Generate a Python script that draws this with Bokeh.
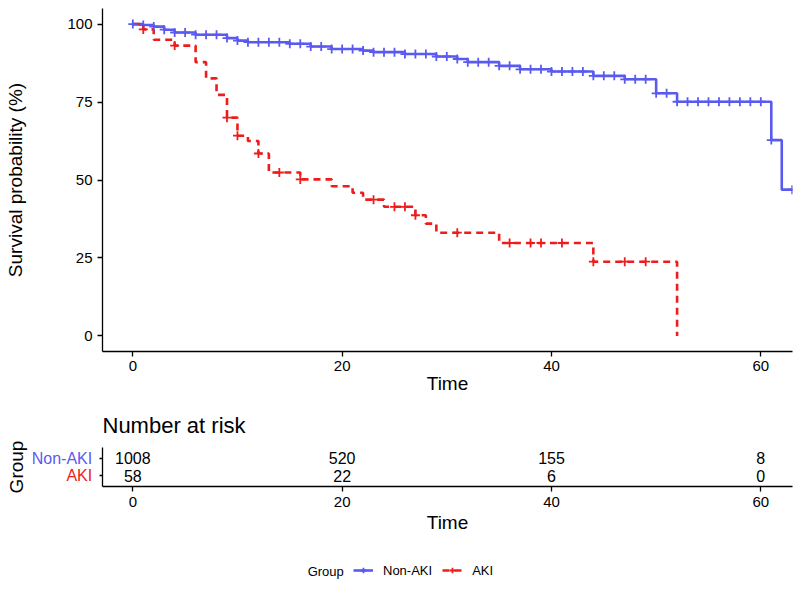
import numpy as np
from bokeh.plotting import figure
from bokeh.models import Range1d, FixedTicker, Label, Legend, LegendItem, ColumnDataSource
from bokeh.layouts import column, row
from bokeh.embed import file_html
from bokeh.resources import INLINE
from bokeh.core.properties import value

FONT = "Liberation Sans"
BLUE = "#5A5AF0"
RED = "#EE1C1C"

# ---------------- data ----------------
groups = ["Non-AKI", "AKI"]
group_colors = [BLUE, RED]

non_aki_time = [0, 1, 2, 3, 4, 6, 9, 10, 11, 15, 17, 19, 22, 23, 26, 29, 31, 32, 35,
                37, 40, 44, 47, 50, 52, 61, 62, 64]
non_aki_surv = [100, 99.7, 99.2, 98.2, 97.3, 96.6, 95.5, 94.7, 94.2, 93.7, 92.8, 92.0,
                91.5, 91.0, 90.4, 89.6, 88.8, 87.8, 86.6, 85.5, 84.8, 83.4, 82.3, 77.8,
                75.1, 62.8, 46.9, 46.9]
non_aki_censor = [0, 1, 2, 3, 4, 5, 6, 7, 8, 9, 10, 11, 12, 13, 14, 15, 16, 17, 18, 19,
                  20, 21, 22, 23, 24, 25, 26, 27, 28, 29, 30, 31, 32, 33, 34, 35, 36, 37,
                  38, 39, 40, 41, 42, 43, 44, 45, 46, 47, 48, 49, 50, 51, 52, 53, 54, 55,
                  56, 57, 58, 59, 60, 61, 63]

aki_time = [0, 1, 2, 4, 6, 7, 8, 9, 10, 11, 12, 13, 16, 19, 21, 22, 24, 27, 28, 29, 35,
            44, 52]
aki_surv = [100, 98.3, 95.0, 93.1, 87.8, 82.6, 77.3, 70.0, 64.2, 62.5, 58.5, 52.4, 50.2,
            48.0, 45.9, 43.7, 41.4, 38.7, 36.0, 33.1, 29.8, 23.8, 0]
aki_censor = [1, 4, 9, 10, 12, 14, 16, 23, 25, 26, 27, 31, 36, 38, 39, 41, 44, 47, 49]

time_ticks = [0, 20, 40, 60]
surv_ticks = [0, 25, 50, 75, 100]
risk_non_aki = [1008, 520, 155, 8]
risk_aki = [58, 22, 6, 0]


def step_value(times, surv, t):
    idx = np.searchsorted(np.asarray(times), np.asarray(t), side="right") - 1
    return list(np.asarray(surv)[idx])


def style_axis(ax, tick_size="15px", label_size="19px"):
    ax.axis_line_color = "black"
    ax.axis_line_width = 1.3
    ax.major_tick_line_color = "black"
    ax.major_tick_line_width = 1.3
    ax.major_tick_out = 5
    ax.major_tick_in = 0
    ax.minor_tick_line_color = None
    ax.major_label_text_font = FONT
    ax.major_label_text_font_size = tick_size
    ax.major_label_text_color = "black"
    ax.axis_label_text_font = FONT
    ax.axis_label_text_font_size = label_size
    ax.axis_label_text_font_style = "normal"
    ax.axis_label_text_color = "black"


W = 800          # total width
LEFT = 102       # space left of the plotting frames
RIGHT = 8
PX_PER_T = 10.467
x_start = -30.3 / PX_PER_T
x_range = Range1d(x_start, x_start + (W - LEFT - RIGHT) / PX_PER_T)

# ---------------- main survival plot ----------------
p = figure(width=W, height=400, x_range=x_range, y_range=Range1d(-5, 105),
           output_backend="svg", toolbar_location=None,
           min_border_left=LEFT, min_border_right=RIGHT, min_border_top=8,
           min_border_bottom=49)
p.outline_line_color = None
p.grid.grid_line_color = None

p.step(non_aki_time, non_aki_surv, mode="after", line_color=BLUE, line_width=2.6)
p.step(aki_time, aki_surv, mode="after", line_color=RED, line_width=2.6, line_dash="7 5")
p.scatter(non_aki_censor, step_value(non_aki_time, non_aki_surv, non_aki_censor),
          marker="cross", size=9, line_color=BLUE, line_width=1.8)
p.scatter(aki_censor, step_value(aki_time, aki_surv, aki_censor),
          marker="cross", size=9, line_color=RED, line_width=1.8)

p.xaxis.ticker = FixedTicker(ticks=time_ticks)
p.yaxis.ticker = FixedTicker(ticks=surv_ticks)
style_axis(p.xaxis[0])
style_axis(p.yaxis[0])
p.xaxis.axis_label = "Time"
p.yaxis.axis_label = "Survival probability (%)"
p.xaxis.major_label_standoff = 4
p.xaxis.axis_label_standoff = -1
p.yaxis.major_label_standoff = 5
p.yaxis.axis_label_standoff = 38

# ---------------- risk table ----------------
TH, TTOP, TBOT = 136, 43, 50
LW = 94          # width of the label strip on the left of the table
LFRAME = 32      # where the label strip's frame starts
t_y_range = Range1d(0.4, 2.6)

p2 = figure(width=W - LW, height=TH, x_range=x_range, y_range=t_y_range,
            output_backend="svg", toolbar_location=None,
            min_border_left=LEFT - LW, min_border_right=RIGHT,
            min_border_top=TTOP, min_border_bottom=TBOT)
p2.outline_line_color = None
p2.grid.grid_line_color = None
p2.title.text = "Number at risk"
p2.title.align = "left"
p2.title.text_font = FONT
p2.title.text_font_size = "22px"
p2.title.text_font_style = "normal"
p2.title.text_color = "black"
p2.title.standoff = 20

rows_y = [2] * len(time_ticks) + [1] * len(time_ticks)
src = ColumnDataSource(dict(x=time_ticks + time_ticks, y=rows_y,
                            t=[str(v) for v in risk_non_aki + risk_aki]))
p2.text(x="x", y="y", text="t", source=src, text_align="center", text_baseline="middle",
        text_font=value(FONT), text_font_size="16px", text_color="black")

p2.xaxis.ticker = FixedTicker(ticks=time_ticks)
p2.yaxis.ticker = FixedTicker(ticks=[1, 2])
style_axis(p2.xaxis[0])
style_axis(p2.yaxis[0])
p2.yaxis.major_tick_out = 3
p2.yaxis.major_label_standoff = 0
p2.yaxis.major_label_overrides = {1: "", 2: ""}
p2.xaxis.axis_label = "Time"
p2.xaxis.major_label_standoff = 5
p2.xaxis.axis_label_standoff = 2

# label strip (group names, with "Group" as its axis title)
pl = figure(width=LW, height=TH, x_range=Range1d(0, LW - LFRAME), y_range=t_y_range,
            output_backend="svg", toolbar_location=None, x_axis_location=None,
            min_border_left=LFRAME, min_border_right=0,
            min_border_top=TTOP, min_border_bottom=TBOT)
pl.outline_line_color = None
pl.grid.grid_line_color = None
pl.yaxis.ticker = FixedTicker(ticks=[])
pl.yaxis.axis_line_color = None
pl.yaxis.major_tick_line_color = None
pl.yaxis.minor_tick_line_color = None
pl.yaxis.axis_label = "Group"
pl.yaxis.axis_label_text_font = FONT
pl.yaxis.axis_label_text_font_size = "19px"
pl.yaxis.axis_label_text_font_style = "normal"
pl.yaxis.axis_label_text_color = "black"
pl.yaxis.axis_label_standoff = 6
lsrc = ColumnDataSource(dict(x=[LW - LFRAME - 2.3] * 2, y=[2, 1], t=groups, c=group_colors))
pl.text(x="x", y="y", text="t", text_color="c", source=lsrc, text_align="right",
        text_baseline="middle", text_font=value(FONT), text_font_size="16px")

# ---------------- legend ----------------
LH = 60
FW = W - LEFT - RIGHT
p3 = figure(width=W, height=LH, x_range=Range1d(0, FW), y_range=Range1d(0, LH),
            output_backend="svg", toolbar_location=None,
            x_axis_location=None, y_axis_location=None,
            min_border_left=LEFT, min_border_right=RIGHT, min_border_top=0,
            min_border_bottom=0)
p3.outline_line_color = None
p3.grid.grid_line_color = None
l1 = p3.line(non_aki_time, non_aki_surv, line_color=BLUE, line_width=2.6, visible=False)
m1 = p3.scatter(non_aki_time, non_aki_surv, marker="cross", size=9, line_color=BLUE,
                line_width=1.8, visible=False)
l2 = p3.line(aki_time, aki_surv, line_color=RED, line_width=2.6, line_dash="7 5",
             visible=False)
m2 = p3.scatter(aki_time, aki_surv, marker="cross", size=9, line_color=RED,
                line_width=1.8, visible=False)
legend = Legend(items=[LegendItem(label=groups[0], renderers=[l1, m1]),
                       LegendItem(label=groups[1], renderers=[l2, m2])],
                orientation="horizontal", location=(251, 18.5))
legend.label_text_font = FONT
legend.label_text_font_size = "13px"
legend.label_text_color = "black"
legend.glyph_width = 20
legend.glyph_height = 14
legend.label_height = 14
legend.label_standoff = 10
legend.spacing = 10
legend.padding = 0
legend.margin = 0
legend.border_line_alpha = 0
legend.background_fill_alpha = 0
legend.inactive_fill_alpha = 0
p3.add_layout(legend, "center")
p3.add_layout(Label(x=241.3, y=25.5, text="Group", text_align="right",
                    text_baseline="middle", text_font=FONT, text_font_size="13px",
                    text_color="black"))

layout = column(p, row(pl, p2, spacing=0), p3, spacing=0)
open("out.html", "w").write(file_html(layout, INLINE))
